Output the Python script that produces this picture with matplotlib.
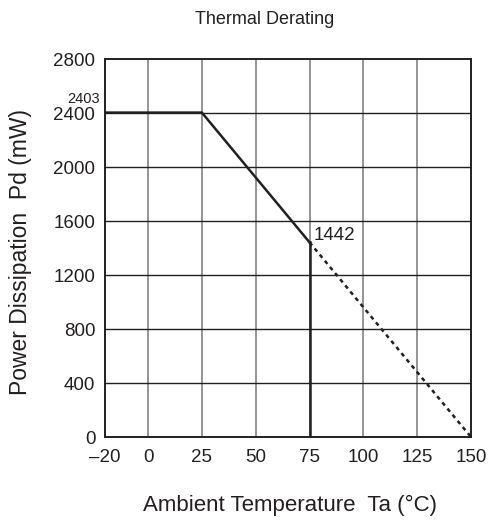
import matplotlib
matplotlib.use("Agg")
import matplotlib.pyplot as plt

plt.rcParams['font.family'] = ['Liberation Sans', 'DejaVu Sans']

# Data
solid_x = [-20, 25, 75]
solid_y = [2403, 2403, 1442]
vert_x = [75, 75]
vert_y = [0, 1442]
dash_x = [75, 150]
dash_y = [1442, 0]
xticks = [-20, 0, 25, 50, 75, 100, 125, 150]
xticklabels = ["\u201320", "0", "25", "50", "75", "100", "125", "150"]
yticks = [0, 400, 800, 1200, 1600, 2000, 2400, 2800]

fig = plt.figure(figsize=(4.91, 5.25), dpi=100)
ax = fig.add_axes([105/491, 1-437/525, (471-105)/491, (437-59)/525])

ax.set_xlim(-20, 150)
ax.set_ylim(0, 2800)
ax.set_xticks(xticks)
ax.set_xticklabels(xticklabels)
ax.set_yticks(yticks)
ax.tick_params(length=0, labelsize=13.5, colors='#231f20')
ax.tick_params(axis='x', pad=9)
ax.tick_params(axis='y', pad=7)

for x in xticks[1:-1]:
    ax.axvline(x, color='#8c8c8c', lw=1.3, zorder=1)
for y in yticks[1:-1]:
    ax.axhline(y, color='#231f20', lw=1.0, zorder=1)

ax.plot(solid_x, solid_y, color='#231f20', lw=1.8, zorder=3)
ax.plot(vert_x, vert_y, color='#231f20', lw=1.8, zorder=3)
ax.plot(dash_x, dash_y, color='#231f20', lw=1.8, ls=(0, (1.6, 1.6)), zorder=3)

for s in ax.spines.values():
    s.set_linewidth(1.4)
    s.set_color('#231f20')

ax.text(-22.3, 2477, "2403", fontsize=10.5, ha='right', va='baseline', color='#231f20')
ax.text(76.8, 1457, "1442", fontsize=13.5, ha='left', va='baseline', color='#231f20')

fig.text(265/491, 1-20/525, "Thermal Derating", fontsize=13, ha='center', va='center', color='#231f20')
fig.text(290/491, 1-505/525, "Ambient Temperature  Ta (\u00b0C)", fontsize=16, ha='center', va='center', color='#231f20')
fig.text(21/491, 1-252/525, "Power Dissipation  Pd (mW)", fontsize=16.5, ha='center', va='center', rotation=90, color='#231f20')

fig.savefig("out.png", dpi=100)
